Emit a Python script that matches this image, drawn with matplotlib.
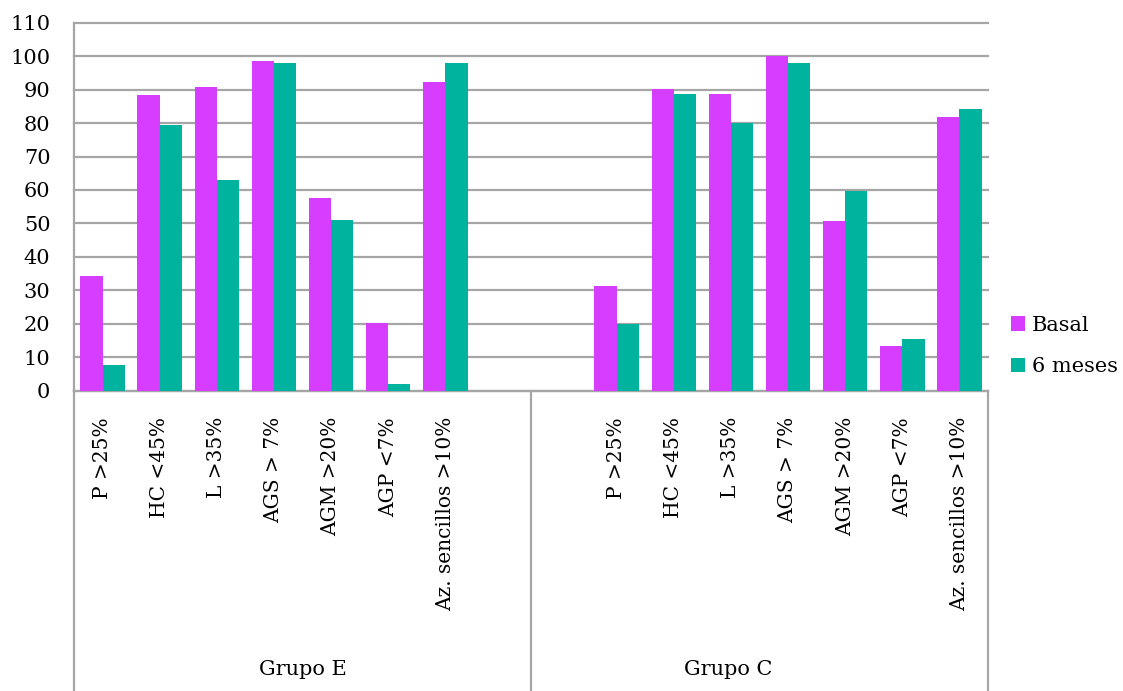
import matplotlib

matplotlib.use("Agg")
import matplotlib.pyplot as plt
import matplotlib.transforms as mtransforms
import numpy as np

plt.rcParams["font.family"] = ["DejaVu Serif", "Liberation Serif"]

categories = ["P >25%", "HC <45%", "L >35%", "AGS > 7%", "AGM >20%", "AGP <7%",
              "Az. sencillos >10%"]
groups = ["Grupo E", "Grupo C"]
basal_e = [34.3, 88.5, 90.7, 98.5, 57.6, 20.3, 92.3]
meses_e = [7.8, 79.3, 63.1, 97.9, 50.9, 1.9, 97.9]
basal_c = [31.4, 90.3, 88.8, 100.0, 50.6, 13.3, 81.9]
meses_c = [20.0, 88.8, 80.0, 97.9, 59.8, 15.5, 84.1]

MAGENTA = "#D63DFF"
TEAL = "#00B39E"
GRID = "#A6A6A6"

W, H = 1123, 691
fig = plt.figure(figsize=(W / 100, H / 100), dpi=100)
ax = fig.add_axes([74 / W, (H - 390.7) / H, (988 - 74) / W, (390.7 - 22.7) / H])

# Group E occupies slots 0-6, slots 7-8 stay empty, Group C sits in 9-15
pos_e = np.arange(7)
pos_c = np.arange(9, 16)
bw = 0.39

ax.bar(pos_e - bw / 2, basal_e, bw, color=MAGENTA, zorder=3, label="Basal")
ax.bar(pos_e + bw / 2, meses_e, bw, color=TEAL, zorder=3, label="6 meses")
ax.bar(pos_c - bw / 2, basal_c, bw, color=MAGENTA, zorder=3)
ax.bar(pos_c + bw / 2, meses_c, bw, color=TEAL, zorder=3)

ax.set_xlim(-0.5, 15.5)
ax.set_ylim(0, 110)
ax.set_yticks(np.arange(0, 111, 10))
ax.yaxis.grid(True, color=GRID, linewidth=1.6, zorder=0)
for gl in ax.get_ygridlines():
    gl.set_clip_on(False)
ax.set_axisbelow(True)
ax.tick_params(axis="y", length=0, pad=17, labelsize=15)
ax.tick_params(axis="x", length=0, pad=19, labelsize=14.5)
ax.set_xticks(np.concatenate([pos_e, pos_c]))
ax.set_xticklabels(categories + categories, rotation=90, va="top", ha="center")

for side in ("top", "right"):
    ax.spines[side].set_visible(False)
for side in ("left", "bottom"):
    ax.spines[side].set_color(GRID)
    ax.spines[side].set_linewidth(1.6)

# group boxes below the axis
trans = mtransforms.blended_transform_factory(ax.transData, ax.transAxes)
for x in (-0.5, 7.5, 15.5):
    ax.plot([x, x], [0, -0.85], transform=trans, color=GRID, lw=1.6,
            clip_on=False, zorder=1)
ax.text(3.5, -0.758, groups[0], transform=trans, ha="center", va="center", fontsize=15)
ax.text(10.95, -0.758, groups[1], transform=trans, ha="center", va="center", fontsize=15)

fig.legend(loc="center left", bbox_to_anchor=(992 / W, (H - 346) / H), frameon=False,
           fontsize=15, handlelength=0.7, handleheight=0.7, handletextpad=0.3,
           labelspacing=1.1)

fig.savefig("out.png", dpi=100)
